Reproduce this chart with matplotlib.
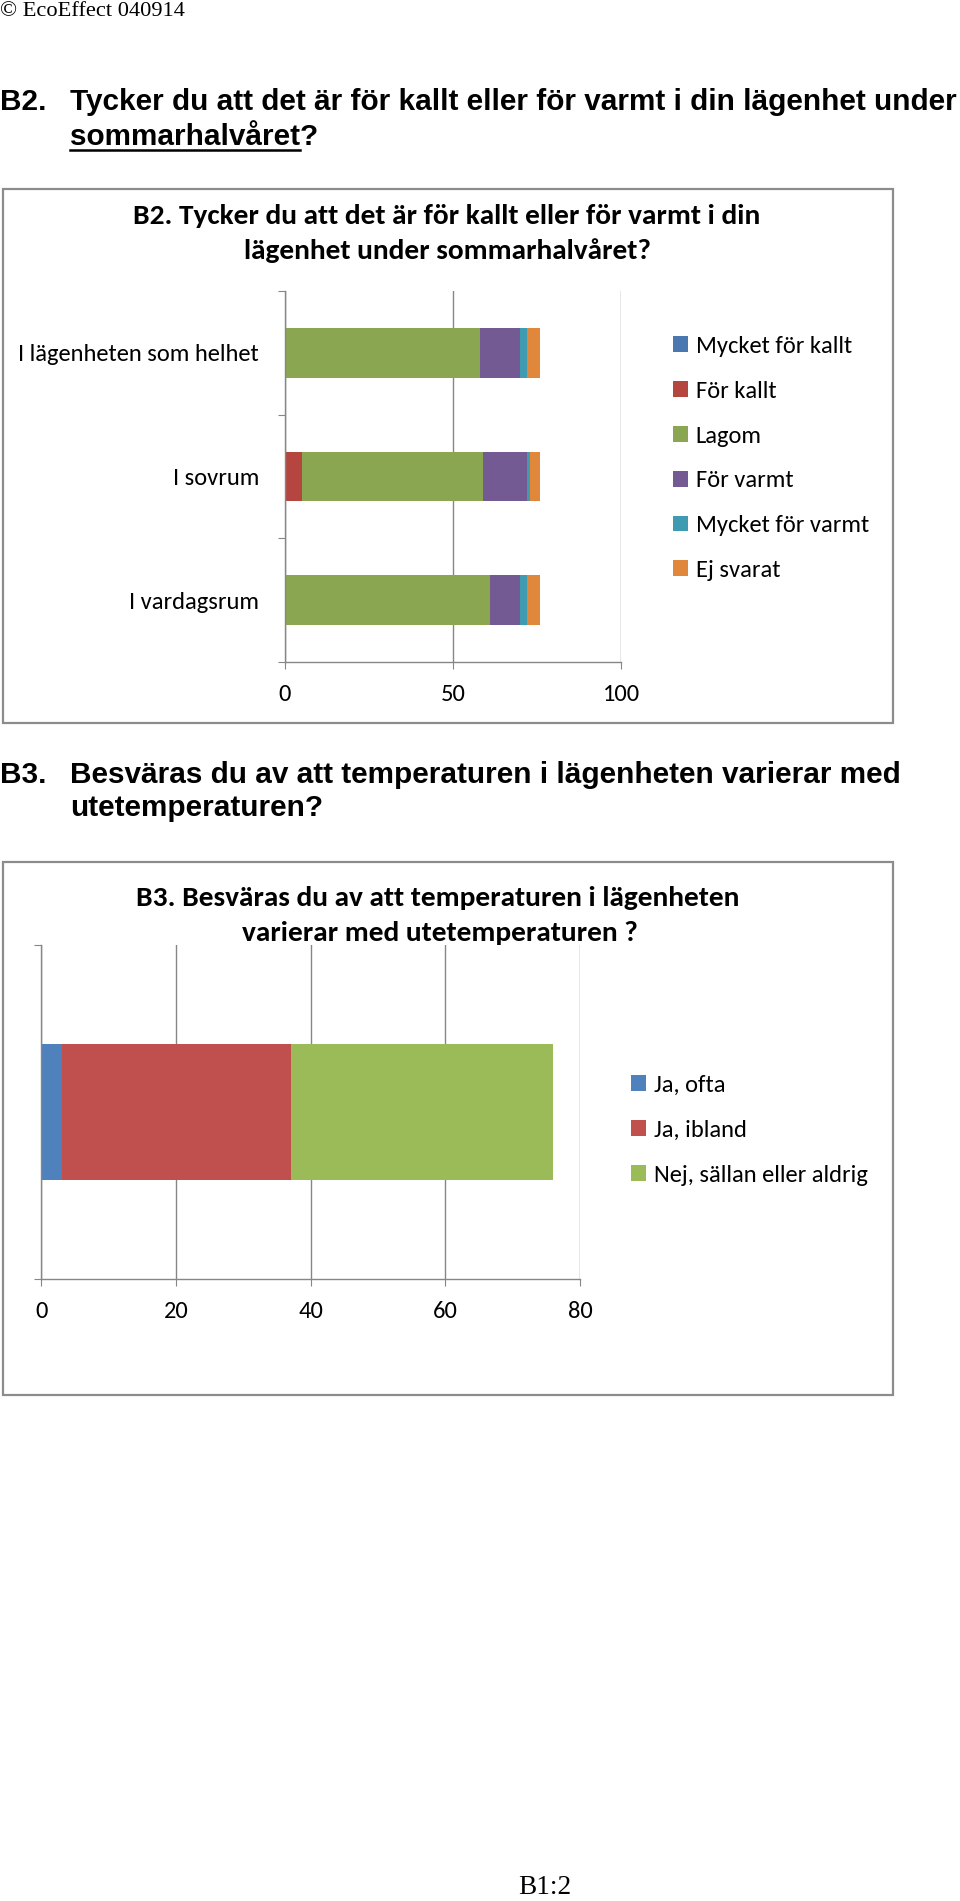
import numpy as np
import matplotlib
matplotlib.use("Agg")
import matplotlib.pyplot as plt
from matplotlib import font_manager as fm
from matplotlib.patches import Rectangle
from matplotlib.lines import Line2D

# ---------------- data ----------------
b2_categories = ["I lägenheten som helhet", "I sovrum", "I vardagsrum"]
b2_series = ["Mycket för kallt", "För kallt", "Lagom", "För varmt", "Mycket för varmt", "Ej svarat"]
b2_mycket_kallt = [0, 0, 0]
b2_for_kallt = [0, 5, 0]
b2_lagom = [58, 54, 61]
b2_for_varmt = [12, 13, 9]
b2_mycket_varmt = [2, 1, 2]
b2_ej_svarat = [4, 3, 4]
b2_ticks = [0, 50, 100]

b3_series = ["Ja, ofta", "Ja, ibland", "Nej, sällan eller aldrig"]
b3_ja_ofta = [3]
b3_ja_ibland = [34]
b3_nej = [39]
b3_ticks = [0, 20, 40, 60, 80]

# ---------------- styles ----------------
b2_colors = ["#4A77B0", "#B5463F", "#8BA650", "#735A92", "#3F9BB2", "#E0873B"]
b3_colors = ["#4F81BD", "#C0504D", "#9BBB59"]
GRAY = "#868686"

W, H = 960, 1901
names = {f.name for f in fm.fontManager.ttflist}


def pick(*cands):
    for c in cands:
        if c in names:
            return c
    return "DejaVu Sans"


SERIF = pick("Liberation Serif", "DejaVu Serif")
HEAD = pick("Liberation Sans Narrow", "Liberation Sans")
CHART = pick("Carlito", "Liberation Sans Narrow", "Lato")

fig = plt.figure(figsize=(W / 100, H / 100), dpi=100)
fig.patch.set_facecolor("white")
renderer = fig.canvas.get_renderer()


def fx(x):
    return x / W


def fy(y):
    return 1 - y / H


def measure(s, family, weight="normal", size=20):
    t = fig.text(0, 0, s, family=family, weight=weight, fontsize=size)
    bb = t.get_window_extent(renderer)
    t.remove()
    return bb.width, bb.height


def fit(s, family, weight, width):
    w, _ = measure(s, family, weight, 20)
    return 20 * width / w


def ptext(x, y, s, family, weight="normal", size=12, ha="left", va="center", **kw):
    return fig.text(fx(x), fy(y), s, family=family, weight=weight, fontsize=size,
                    ha=ha, va=va, **kw)


# ---------------- page texts ----------------
ptext(0, 11, "© EcoEffect 040914", SERIF, size=fit("© EcoEffect 040914", SERIF, "normal", 184))

hs = fit("Tycker du att det är för kallt eller för varmt i din lägenhet under", HEAD, "bold", 884)
ptext(0, 102, "B2.", HEAD, "bold", hs)
ptext(70, 102, "Tycker du att det är för kallt eller för varmt i din lägenhet under", HEAD, "bold", hs)
t_word = ptext(70, 137, "sommarhalvåret", HEAD, "bold", hs)
bb = t_word.get_window_extent(renderer)
ptext(bb.x1, 137, "?", HEAD, "bold", hs)
fig.add_artist(Line2D([fx(bb.x0), fx(bb.x1)], [fy(150), fy(150)], transform=fig.transFigure,
                      color="black", lw=1.8))

ptext(0, 775, "B3.", HEAD, "bold", hs)
ptext(70, 775, "Besväras du av att temperaturen i lägenheten varierar med", HEAD, "bold", hs)
ptext(70, 808, "utetemperaturen?", HEAD, "bold", hs)

ptext(545, 1887, "B1:2", SERIF, size=fit("B1:2", SERIF, "normal", 53), ha="center")

# ---------------- chart frames ----------------
for (y0, y1) in [(189, 723), (862, 1395)]:
    fig.add_artist(Rectangle((fx(3), fy(y1)), (893 - 3) / W, (y1 - y0) / H,
                             transform=fig.transFigure, fill=False, ec="#8C8C8C", lw=1.6))

ts1 = fit("B2. Tycker du att det är för kallt eller för varmt i din", CHART, "bold", 628)
ptext(447, 216, "B2. Tycker du att det är för kallt eller för varmt i din", CHART, "bold", ts1, ha="center")
ptext(447, 251, "lägenhet under sommarhalvåret?", CHART, "bold", ts1, ha="center")
ptext(438, 898, "B3. Besväras du av att temperaturen i lägenheten", CHART, "bold", ts1, ha="center")
ptext(440, 933, "varierar med utetemperaturen ?", CHART, "bold", ts1, ha="center")

cs = fit("I lägenheten som helhet", CHART, "normal", 241)


def style_axes(ax):
    for s in ("top", "right"):
        ax.spines[s].set_visible(False)
    for s in ("left", "bottom"):
        ax.spines[s].set_color(GRAY)
        ax.spines[s].set_linewidth(1.0)
    ax.set_axisbelow(True)
    ax.xaxis.grid(True, color=GRAY, lw=1.0)
    ax.tick_params(axis="x", which="major", direction="out", length=5, color=GRAY,
                   labelsize=cs, pad=11)
    ax.tick_params(axis="y", which="major", direction="out", length=5, color=GRAY)
    for lab in ax.get_xticklabels():
        lab.set_family(CHART)


# ---------------- chart B2 ----------------
ax1 = fig.add_axes([fx(284.7), fy(662), (621 - 284.7) / W, (662 - 291) / H])
ypos = np.array([2, 1, 0])
left = np.zeros(3)
b2_values = [b2_mycket_kallt, b2_for_kallt, b2_lagom, b2_for_varmt, b2_mycket_varmt, b2_ej_svarat]
handles = []
for name, vals, col in zip(b2_series, b2_values, b2_colors):
    vals = np.array(vals, dtype=float)
    h = ax1.barh(ypos, vals, left=left, height=0.4, color=col, lw=0, label=name)
    handles.append(h)
    left += vals
ax1.set_xlim(0, 100)
ax1.set_ylim(-0.5, 2.5)
ax1.set_xticks(b2_ticks)
ax1.set_yticks([-0.5, 0.5, 1.5, 2.5])
ax1.set_yticklabels([])
ax1.set_yticks(ypos, labels=b2_categories, minor=True)
ax1.tick_params(axis="y", which="minor", length=0, pad=18.5, labelsize=cs)
for lab in ax1.get_yticklabels(minor=True):
    lab.set_family(CHART)
style_axes(ax1)

leg_kw = dict(loc="upper left", frameon=False, handlelength=0.62, handleheight=0.62,
              handletextpad=0.3, borderpad=0, borderaxespad=0,
              prop={"family": CHART, "size": cs})
fig.legend(handles, b2_series, bbox_to_anchor=(fx(673), fy(336)), labelspacing=0.97, **leg_kw)

# ---------------- chart B3 ----------------
ax2 = fig.add_axes([fx(41.4), fy(1279), (580 - 41.4) / W, (1279 - 945) / H])
left = np.zeros(1)
b3_values = [b3_ja_ofta, b3_ja_ibland, b3_nej]
handles2 = []
for name, vals, col in zip(b3_series, b3_values, b3_colors):
    vals = np.array(vals, dtype=float)
    h = ax2.barh([0], vals, left=left, height=0.41, color=col, lw=0, label=name)
    handles2.append(h)
    left += vals
ax2.set_xlim(0, 80)
ax2.set_ylim(-0.5, 0.5)
ax2.set_xticks(b3_ticks)
ax2.set_yticks([-0.5, 0.5])
ax2.set_yticklabels([])
style_axes(ax2)
fig.legend(handles2, b3_series, bbox_to_anchor=(fx(631), fy(1075)), labelspacing=0.97, **leg_kw)

fig.savefig("out.png", dpi=100, facecolor="white")
